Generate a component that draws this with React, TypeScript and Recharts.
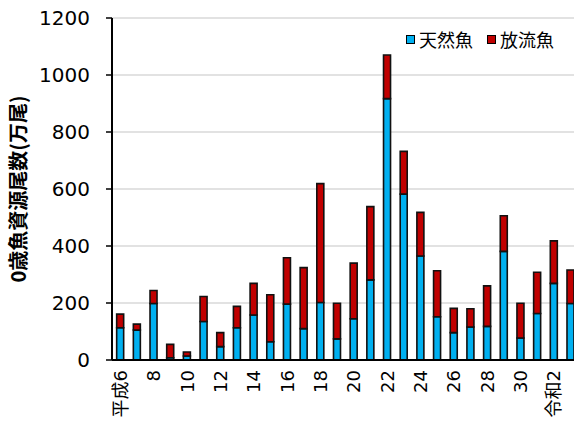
import { BarChart, Bar, XAxis, YAxis, CartesianGrid } from "recharts";

// 年度ラベル（平成6年〜令和3年）
const years = [
  "平成6", "7", "8", "9", "10", "11", "12", "13", "14", "15", "16", "17", "18", "19",
  "20", "21", "22", "23", "24", "25", "26", "27", "28", "29", "30", "令和元", "令和2", "令和3",
];
// 天然魚（万尾）
const wild = [
  113, 105, 198, 8, 14, 135, 47, 113, 158, 64, 196, 110, 202, 74,
  145, 281, 917, 582, 365, 152, 96, 116, 118, 381, 77, 163, 269, 198,
];
// 放流魚（万尾）
const stocked = [
  48, 21, 46, 47, 14, 88, 49, 75, 111, 165, 163, 214, 417, 125,
  195, 257, 153, 150, 153, 161, 85, 64, 142, 125, 122, 145, 149, 118,
];
const yTicks = [0, 200, 400, 600, 800, 1000, 1200];

const data = years.map((y, i) => ({ year: y, wild: wild[i], stocked: stocked[i] }));

const FONT = '"DejaVu Sans", "Noto Sans CJK JP", sans-serif';
const CJK = '"Noto Sans CJK JP", sans-serif';

function YearTick({ x, y, payload }: any) {
  return (
    <text
      x={x}
      y={y}
      transform={`rotate(-90, ${x}, ${y})`}
      textAnchor="end"
      dominantBaseline="central"
      fontSize={18}
      fontFamily={FONT}
      fill="#000"
    >
      {payload.value}
    </text>
  );
}

function YLabel({ viewBox }: any) {
  const x = viewBox.x + 17;
  const y = 189;
  return (
    <text
      x={x}
      y={y}
      transform={`rotate(-90, ${x}, ${y})`}
      textAnchor="middle"
      dominantBaseline="central"
      fontSize={20}
      fontWeight={700}
      fontFamily={CJK}
      fill="#000"
    >
      0歳魚資源尾数(万尾)
    </text>
  );
}

const legendItems = [
  { label: "天然魚", color: "#00B0F0", left: 406 },
  { label: "放流魚", color: "#C00000", left: 487 },
];

export default function App() {
  return (
    <div style={{ position: "absolute", left: 0, top: 0, width: 574, height: 421, overflow: "hidden", background: "#fff" }}>
      <BarChart
        width={579}
        height={421}
        data={data}
        margin={{ top: 18, right: 0, bottom: 0, left: 0 }}
        barCategoryGap="28%"
      >
        <CartesianGrid horizontal vertical={false} stroke="#d9d9d9" strokeWidth={1.5} />
        <XAxis
          dataKey="year"
          interval={1}
          height={61}
          tick={<YearTick />}
          tickLine={false}
          tickSize={0}
          tickMargin={10}
          axisLine={{ stroke: "#000", strokeWidth: 2 }}
        />
        <YAxis
          domain={[0, 1200]}
          ticks={yTicks}
          width={112}
          tickSize={6}
          tickMargin={16}
          tick={{ fill: "#000", fontSize: 20, fontFamily: FONT }}
          tickLine={{ stroke: "#000", strokeWidth: 1.5 }}
          axisLine={{ stroke: "#000", strokeWidth: 2 }}
          label={<YLabel />}
        />
        <Bar dataKey="wild" name="天然魚" stackId="a" fill="#00B0F0" stroke="#111" strokeWidth={1.6} isAnimationActive={false} />
        <Bar dataKey="stocked" name="放流魚" stackId="a" fill="#C00000" stroke="#111" strokeWidth={1.6} isAnimationActive={false} />
      </BarChart>
      {legendItems.map((it) => (
        <div
          key={it.label}
          style={{
            position: "absolute",
            left: it.left,
            top: 27,
            display: "flex",
            alignItems: "center",
            gap: 4,
            fontFamily: CJK,
            fontSize: 18,
            lineHeight: "24px",
            color: "#000",
          }}
        >
          <span style={{ width: 7, height: 7, background: it.color, border: "1px solid #000", display: "inline-block" }} />
          <span>{it.label}</span>
        </div>
      ))}
    </div>
  );
}
